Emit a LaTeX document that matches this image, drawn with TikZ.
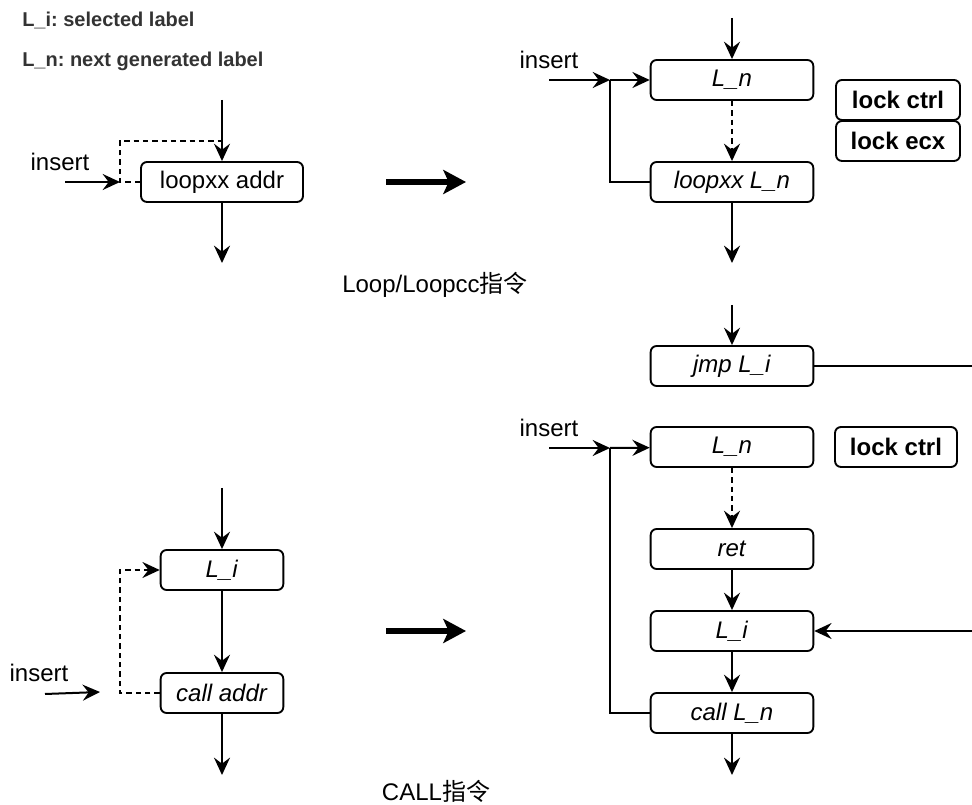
\documentclass[tikz,border=0pt]{standalone}
\usepackage{fontspec}
\setmainfont{Liberation Sans}
\newfontfamily\cjk{Noto Sans CJK SC}
\usetikzlibrary{arrows.meta}
\definecolor{legendgray}{HTML}{333333}
\frenchspacing

\begin{document}
\begin{tikzpicture}[x=0.75pt, y=-0.75pt,
                every node/.style={font=\fontsize{18pt}{21pt}\selectfont, inner sep=0pt},
                box/.style={draw, line width=1.4pt, rounded corners=4.5pt, minimum width=122pt, minimum height=30pt},
                smallbox/.style={box, minimum width=92pt},
                lockbox/.style={box, minimum width=93pt, font=\fontsize{18pt}{21pt}\selectfont\bfseries},
                legend/.style={anchor=west, text=legendgray, font=\fontsize{15pt}{17pt}\selectfont\bfseries},
                tip/.style={-{Stealth[length=13pt, width=12pt, inset=4.5pt]}},
                arr/.style={line width=1.5pt, tip},
                con/.style={line width=1.5pt},
                dashline/.style={line width=1.5pt, dash pattern=on 4pt off 3pt},
                bigarr/.style={line width=3.8pt, -{Stealth[length=17pt, width=18pt, inset=4pt]}}]
                \useasboundingbox (0,0) rectangle (972,805);
                \node[legend] (legi) at (22,20) {L\_i: selected label};
                \node[legend] (legn) at (22,61) {L\_n: next generated label};
                \node[smallbox, minimum width=121.5pt] (loopa) at (222,182) {loopxx addr};
                \node (insa) at (60,162) {insert};
                \coordinate (ina) at (222,100);
                \coordinate (outa) at (222,263);
                \coordinate (srca) at (65,182);
                \coordinate (joina) at (120,182);
                \coordinate (upa) at (120,141);
                \coordinate (meeta) at (222,141);
                \draw[arr] (ina) -- (loopa);
                \draw[arr] (loopa) -- (outa);
                \draw[arr] (srca) -- (joina);
                \draw[dashline] (loopa.west) -- (joina) -- (upa) -- (meeta);
                \coordinate (biga1) at (386,182);
                \coordinate (biga2) at (466,182);
                \draw[bigarr] (biga1) -- (biga2);
                \node[box] (lna) at (732,80) {\textit{L\_n}};
                \node[box] (loopn) at (732,182) {\textit{loopxx L\_n}};
                \node[lockbox] (lockca) at (898,100) {lock ctrl};
                \node[lockbox] (lockea) at (898,141) {lock ecx};
                \node (insb) at (549,60) {insert};
                \coordinate (inb) at (732,18);
                \coordinate (outb) at (732,263);
                \coordinate (srcb) at (549,80);
                \coordinate (joinb) at (610,80);
                \draw[arr] (inb) -- (lna);
                \draw[arr] (srcb) -- (joinb);
                \draw[arr] (joinb) -- (lna);
                \draw[con] (loopn.west) -| (joinb);
                \draw[dashline, tip] (lna) -- (loopn);
                \draw[arr] (loopn) -- (outb);
                \node (capa) at (435,285) {Loop/Loopcc{\cjk 指令}};
                \node[box] (jmp) at (732,366) {\textit{jmp L\_i}};
                \coordinate (injmp) at (732,305);
                \coordinate (outjmp) at (972,366);
                \draw[arr] (injmp) -- (jmp);
                \draw[con] (jmp) -- (outjmp);
                \node[box] (lnb) at (732,447) {\textit{L\_n}};
                \node[lockbox, minimum width=91.5pt] (lockcb) at (896,447) {lock ctrl};
                \node[box] (ret) at (732,549) {\textit{ret}};
                \node[box] (lib) at (732,631) {\textit{L\_i}};
                \node[box] (calln) at (732,713) {\textit{call L\_n}};
                \node (insc) at (549,428) {insert};
                \coordinate (srcc) at (549,448);
                \coordinate (joinc) at (610,448);
                \coordinate (fromjmp) at (972,631);
                \coordinate (outc) at (732,775);
                \draw[arr] (srcc) -- (joinc);
                \draw[arr] (joinc) -- (lnb);
                \draw[con] (calln.west) -| (joinc);
                \draw[dashline, tip] (lnb) -- (ret);
                \draw[arr] (ret) -- (lib);
                \draw[arr] (lib) -- (calln);
                \draw[arr] (fromjmp) -- (lib);
                \draw[arr] (calln) -- (outc);
                \node (capb) at (436,791) {CALL{\cjk 指令}};
                \node[smallbox] (lia) at (222,570) {\textit{L\_i}};
                \node[smallbox] (calla) at (222,693) {\textit{call addr}};
                \node (insd) at (39,673) {insert};
                \coordinate (ind) at (222,488);
                \coordinate (outd) at (222,775);
                \coordinate (srcd) at (45,694);
                \coordinate (endd) at (100,692);
                \coordinate (joind) at (120,693);
                \draw[arr] (ind) -- (lia);
                \draw[arr] (lia) -- (calla);
                \draw[arr] (calla) -- (outd);
                \draw[arr] (srcd) -- (endd);
                \draw[dashline, tip] (calla.west) -- (joind) |- (lia.west);
                \coordinate (bigb1) at (386,631);
                \coordinate (bigb2) at (466,631);
                \draw[bigarr] (bigb1) -- (bigb2);
            \end{tikzpicture}
\end{document}
